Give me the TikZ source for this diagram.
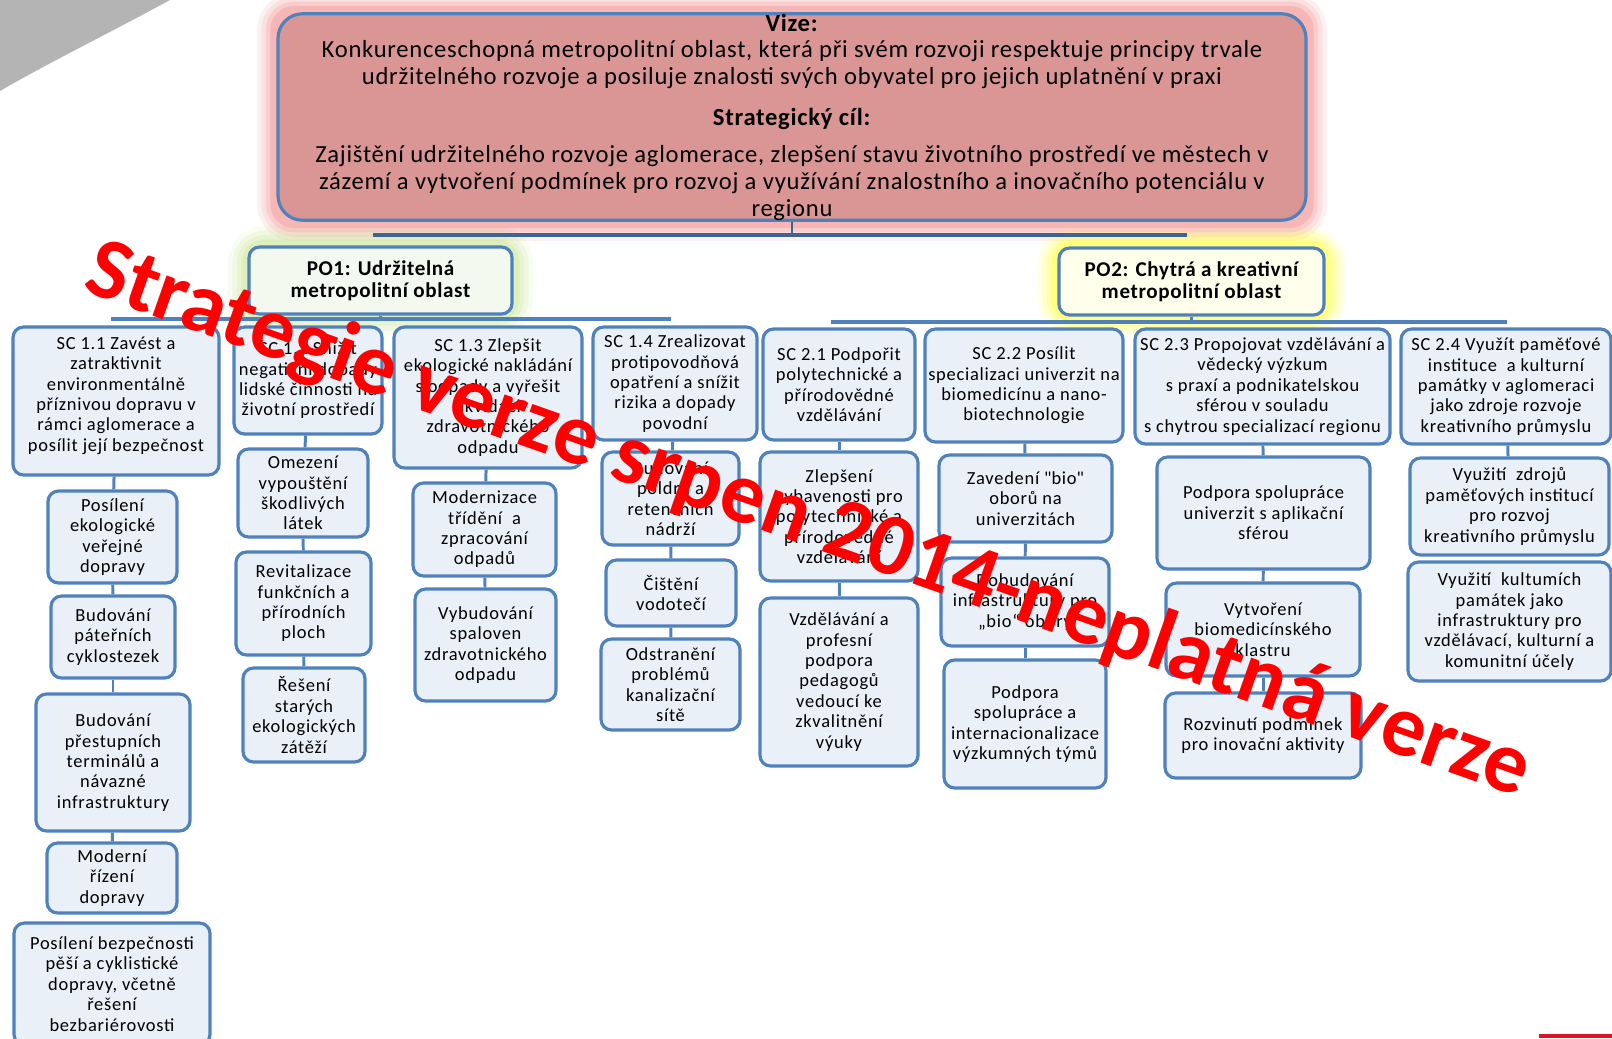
\documentclass[tikz,border=0pt]{standalone}
\usepackage{fontspec}
\setmainfont{Carlito}
\usetikzlibrary{backgrounds,positioning}
\definecolor{boxblue}{RGB}{79,129,189}
\definecolor{boxfill}{RGB}{234,240,248}
\definecolor{vizefill}{RGB}{217,150,148}
\definecolor{vizeglow}{RGB}{240,130,130}
\definecolor{po1fill}{RGB}{243,249,239}
\definecolor{po1glow}{RGB}{196,228,140}
\definecolor{po2fill}{RGB}{255,255,236}
\definecolor{po2glow}{RGB}{255,255,40}
\definecolor{barblue}{RGB}{62,100,150}
\definecolor{cornergray}{RGB}{180,180,181}
\definecolor{stripred}{RGB}{220,20,40}
\tikzset{
  itembox/.style 2 args={draw=boxblue, fill=boxfill, line width=1.8pt, rounded corners=6pt,
    align=center, inner sep=0pt, minimum width=#1*0.02cm, minimum height=#2*0.02cm,
    font=\fontsize{10.5}{11.6}\selectfont\addfontfeature{LetterSpace=4}},
  prio/.style={itembox={#1}{67}, font=\bfseries\fontsize{12}{12.8}\selectfont\addfontfeature{LetterSpace=3}},
  link/.style={draw=boxblue, line width=1.7pt},
  bar/.style={draw=boxblue, line width=2.6pt},
  glow/.style={draw=#1, rounded corners=10pt}
}
\begin{document}
\begin{tikzpicture}[x=0.02cm,y=-0.02cm]
\useasboundingbox (0,0) rectangle (1612,1038);
\clip (0,0) rectangle (1612,1038);
\fill[cornergray] (0,0) -- (170,0) .. controls (100,38) and (50,62) .. (0,91) -- cycle;

\node[itembox={1028}{204}, fill=vizefill, rounded corners=14pt, font=\fontsize{14}{15.3}\selectfont\addfontfeature{LetterSpace=3}] (vize) at (792,117)
  {\textbf{Vize:}\\
   Konkurenceschopná metropolitní oblast, která při svém rozvoji respektuje principy trvale\\
   udržitelného rozvoje a posiluje znalosti svých obyvatel pro jejich uplatnění v praxi\\[7.9pt]
   \textbf{Strategický cíl:}\\[5.6pt]
   Zajištění udržitelného rozvoje aglomerace, zlepšení stavu životního prostředí ve městech v\\
   zázemí a vytvoření podmínek pro rozvoj a využívání znalostního a inovačního potenciálu v\\
   regionu};
\node[prio=263, fill=po1fill] (po1) at (380.5,280.5) {PO1: Udržitelná\\metropolitní oblast};
\node[prio=265, fill=po2fill] (po2) at (1191.5,281.5) {PO2: Chytrá a kreativní\\metropolitní oblast};

\node[itembox={206}{148}, text depth=8pt] (sc11) at (116,401) {SC 1.1 Zavést a\\zatraktivnit\\environmentálně\\příznivou dopravu v\\rámci aglomerace a\\posílit její bezpečnost};
\node[itembox={148}{107}] (sc12) at (308,380.5) {SC 1.2 Snížit\\negativní dopady\\lidské činnosti na\\životní prostředí};
\node[itembox={188}{141}] (sc13) at (488,397.5) {SC 1.3 Zlepšit\\ekologické nakládání\\s odpady a vyřešit\\likvidaci\\zdravotnického\\odpadu};
\node[itembox={164}{113}] (sc14) at (675,383.5) {SC 1.4 Zrealizovat\\protipovodňová\\opatření a snížit\\rizika a dopady\\povodní};
\node[itembox={152}{111}] (sc21) at (839,384.5) {SC 2.1 Podpořit\\polytechnické a\\přírodovědné\\vzdělávání};
\node[itembox={198}{113}] (sc22) at (1024,385.5) {SC 2.2 Posílit\\specializaci univerzit na\\biomedicínu a nano-\\biotechnologie};
\node[itembox={255}{115}] (sc23) at (1262.5,386.5) {SC 2.3 Propojovat vzdělávání a\\vědecký výzkum\\s praxí a podnikatelskou\\sférou v souladu\\s chytrou specializací regionu};
\node[itembox={210}{115}] (sc24) at (1506,386.5) {SC 2.4 Využít paměťové\\instituce \ a kulturní\\památky v aglomeraci\\jako zdroje rozvoje\\kreativního průmyslu};

\node[itembox={129}{92}] (a1) at (112.5,537) {Posílení\\ekologické\\veřejné\\dopravy};
\node[itembox={124}{82}] (a2) at (113,637) {Budování\\páteřních\\cyklostezek};
\node[itembox={154}{137}] (a3) at (113,762.5) {Budování\\přestupních\\terminálů a\\návazné\\infrastruktury};
\node[itembox={130}{70}] (a4) at (112,878) {Moderní\\řízení\\dopravy};
\node[itembox={196}{122}] (a5) at (112,984) {Posílení bezpečnosti\\pěší a cyklistické\\dopravy, včetně\\řešení\\bezbariérovosti};

\node[itembox={130}{88}] (b1) at (303,493) {Omezení\\vypouštění\\škodlivých\\látek};
\node[itembox={135}{103}] (b2) at (303.5,603.5) {Revitalizace\\funkčních a\\přírodních\\ploch};
\node[itembox={122}{94}] (b3) at (304,715) {Řešení\\starých\\ekologických\\zátěží};

\node[itembox={143}{93}] (c1) at (484.5,529.5) {Modernizace\\třídění \ a\\zpracování\\odpadů};
\node[itembox={141}{112}] (c2) at (485.5,645) {Vybudování\\spaloven\\zdravotnického\\odpadu};

\node[itembox={137}{93}] (d1) at (670.5,498.5) {Budování\\poldrů a\\retenčních\\nádrží};
\node[itembox={130}{66}] (d2) at (671,593) {Čištění\\vodotečí};
\node[itembox={139}{91}] (d3) at (670.5,684.5) {Odstranění\\problémů\\kanalizační\\sítě};

\node[itembox={158}{129}] (e1) at (839,516.5) {Zlepšení\\vybavenosti pro\\polytechnické a\\přírodovědné\\vzdělávání};
\node[itembox={158}{168}] (e2) at (839,682) {Vzdělávání a\\profesní\\podpora\\pedagogů\\vedoucí ke\\zkvalitnění\\výuky};

\node[itembox={173}{87}] (f1) at (1025.5,498.5) {Zavedení \textquotedbl bio\textquotedbl\\oborů na\\univerzitách};
\node[itembox={168}{88}] (f2) at (1025,602) {Dobudování\\infrastruktury pro\\„bio“ obory};
\node[itembox={162}{128}] (f3) at (1025,724) {Podpora\\spolupráce a\\internacionalizace\\výzkumných týmů};

\node[itembox={213}{112}] (g1) at (1263.5,513) {Podpora spolupráce\\univerzit s aplikační\\sférou};
\node[itembox={194}{93}] (g2) at (1263,629.5) {Vytvoření\\biomedicínského\\klastru};
\node[itembox={196}{85}] (g3) at (1263,735.5) {Rozvinutí podmínek\\pro inovační aktivity};

\node[itembox={199}{97}] (h1) at (1509.5,506.5) {Využití \ zdrojů\\paměťových institucí\\pro rozvoj\\kreativního průmyslu};
\node[itembox={203}{119}] (h2) at (1509.5,621.5) {Využití \ kultumích\\památek jako\\infrastruktury pro\\vzdělávací, kulturní a\\komunitní účely};

\begin{scope}[on background layer]
  \foreach \w/\o in {22/0.12, 17/0.15, 12/0.2, 7/0.3} {
    \draw[glow=vizeglow, line width=\w pt, opacity=\o] (vize.north west) rectangle (vize.south east);
    \draw[glow=po1glow, line width=\w pt, opacity=\o] (po1.north west) rectangle (po1.south east);
    \draw[glow=po2glow, line width=\w pt, opacity=\o] (po2.north west) rectangle (po2.south east);
  }
\end{scope}

\coordinate (topl) at (373,235);
\coordinate (topr) at (1187,235);
\coordinate (po1l) at (111,319);
\coordinate (po1r) at (671,319);
\coordinate (po2l) at (831,322);
\coordinate (po2r) at (1507,322);
\draw[bar, draw=barblue] (topl) -- (topr);
\draw[draw=barblue, line width=1.2pt] (vize.south) -- (vize.south |- topl);
\draw[bar] (po1l) -- (po1r);
\draw[bar] (po2l) -- (po2r);
\draw[link] (po1.south) -- (po1.south |- po1l);
\draw[link] (po2.south) -- (po2.south |- po2l);

\path[link]
  (sc11) edge (a1) (a1) edge (a2) (a2) edge (a3) (a3) edge (a4)
  (sc12) edge (b1) (b1) edge (b2) (b2) edge (b3)
  (sc13) edge (c1) (c1) edge (c2)
  (sc14) edge (d1) (d1) edge (d2) (d2) edge (d3)
  (sc21) edge (e1) (e1) edge (e2)
  (sc22) edge (f1) (f1) edge (f2) (f2) edge (f3)
  (sc23) edge (g1) (g1) edge (g2) (g2) edge (g3)
  (sc24) edge (h1)
;

\fill[stripred] (1539,1034) rectangle (1612,1038);
\node[text=red, rotate=-19.4, font=\bfseries\fontsize{50}{50}\selectfont] (stamp) at (808,522)
  {Strategie verze srpen 2014-neplatná verze};
\end{tikzpicture}
\end{document}
